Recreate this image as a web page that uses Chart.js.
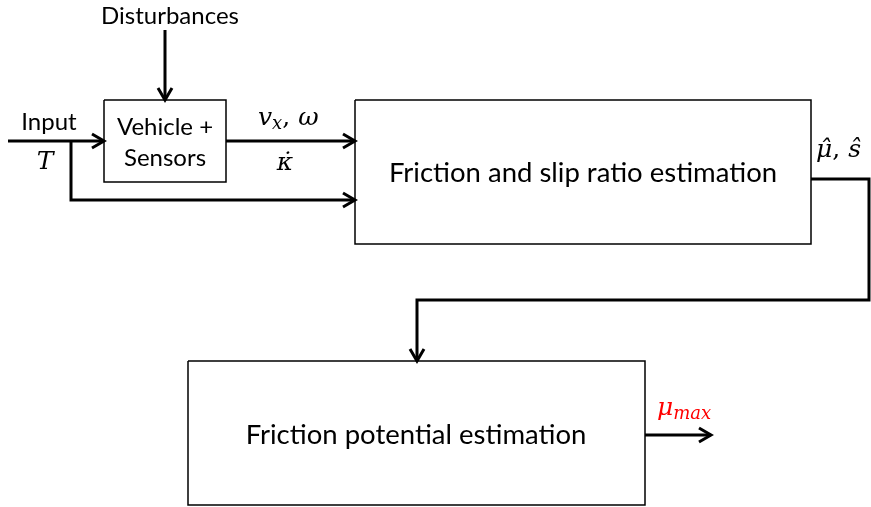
<!DOCTYPE html>
<html><head><meta charset="utf-8">
<script src="https://cdn.jsdelivr.net/npm/chart.js@4.4.1/dist/chart.umd.min.js"></script>
<style>html,body{margin:0;padding:0;background:#fff;}#wrap{width:871px;height:507px;}</style>
</head><body><div id="wrap"><canvas id="c" width="871" height="507"></canvas></div>
<script>
// Blocks: [x1, y1, x2, y2] in diagram units
const blockNames = ["Vehicle + Sensors", "Friction and slip ratio estimation", "Friction potential estimation"];
const blockLeft   = [104, 355, 188];
const blockTop    = [100, 100, 361];
const blockRight  = [226, 811, 645];
const blockBottom = [182, 244, 505];

// Signal wires (polylines); last point is arrow tip when arrow flag true
const wireNames = ["input", "T branch", "disturbances", "vx omega kappa", "mu s feedback", "mu max"];
const wireX = [[8, 104], [71, 71, 355], [165, 165], [226, 355], [811, 869, 869, 417, 417], [645, 711]];
const wireY = [[141, 141], [141, 200, 200], [30, 100], [141, 141], [179, 179, 300, 300, 361], [435, 435]];
const wireArrow = [true, true, true, true, true, true];

// Text labels
const labelText = ["Disturbances", "Input", "Vehicle +", "Sensors", "Friction and slip ratio estimation", "Friction potential estimation"];
const labelX = [170, 49, 165, 165, 583, 416];
const labelY = [16, 122, 127, 158, 173, 435];

// Math labels: segments [text, kind] kind: i=italic, s=subscript italic, r=roman
const mathLabels = [
  {segs: [["T", "i"]], x: 45, y: 162, color: "#000", align: "center"},
  {segs: [["v", "i"], ["x", "s"], [", ", "r"], ["ω", "i"]], x: 258, y: 118, color: "#000", align: "left"},
  {segs: [["κ\u0307", "i"]], x: 285, y: 163, color: "#000", align: "center"},
  {segs: [["μ\u0302", "i"], [", ", "r"], ["ŝ", "i"]], x: 816, y: 150, color: "#000", align: "left"},
  {segs: [["μ", "i"], ["max", "s"]], x: 657, y: 408, color: "#ff0000", align: "left"}
];

const datasets = [];
for (let i = 0; i < blockNames.length; i++) {
  const l = blockLeft[i], t = blockTop[i], r = blockRight[i], b = blockBottom[i];
  datasets.push({label: blockNames[i], data: [{x:l,y:t},{x:r,y:t},{x:r,y:b},{x:l,y:b},{x:l,y:t}],
    showLine: true, borderColor: "#000", borderWidth: 1.5, pointRadius: 0, fill: false, tension: 0, borderJoinStyle: "miter"});
}
for (let i = 0; i < wireNames.length; i++) {
  const pts = wireX[i].map((x, k) => ({x, y: wireY[i][k]}));
  datasets.push({label: wireNames[i], data: pts, showLine: true, borderColor: "#000", borderWidth: 3,
    pointRadius: 0, fill: false, tension: 0, borderJoinStyle: "miter", borderCapStyle: "butt"});
  if (wireArrow[i]) {
    const n = pts.length, tip = pts[n-1], prev = pts[n-2];
    const dx = tip.x - prev.x, dy = tip.y - prev.y, len = Math.hypot(dx, dy);
    const ux = dx/len, uy = dy/len, back = 12, half = 7;
    datasets.push({label: wireNames[i] + " head", data: [
      {x: tip.x - ux*back - uy*half, y: tip.y - uy*back + ux*half},
      {x: tip.x, y: tip.y},
      {x: tip.x - ux*back + uy*half, y: tip.y - uy*back - ux*half}],
      showLine: true, borderColor: "#000", borderWidth: 3, pointRadius: 0, fill: false, tension: 0,
      borderJoinStyle: "miter", borderCapStyle: "butt"});
  }
}

const textPlugin = {
  id: "diagramText",
  afterDatasetsDraw(chart) {
    const ctx = chart.ctx, xs = chart.scales.x, ys = chart.scales.y;
    ctx.save();
    ctx.fillStyle = "#000";
    ctx.textBaseline = "middle";
    ctx.textAlign = "center";
    for (let i = 0; i < labelText.length; i++) {
      const big = i >= 4;
      ctx.font = (big ? "27.5px" : "24px") + " Lato, 'Open Sans', sans-serif";
      ctx.fillText(labelText[i], xs.getPixelForValue(labelX[i]), ys.getPixelForValue(labelY[i]));
    }
    ctx.textAlign = "left";
    for (const m of mathLabels) {
      const fonts = {i: "italic 25px 'DejaVu Serif', serif", s: "italic 18px 'DejaVu Serif', serif", r: "25px 'DejaVu Serif', serif"};
      let w = 0;
      for (const [t, k] of m.segs) { ctx.font = fonts[k]; w += ctx.measureText(t).width; }
      let x = xs.getPixelForValue(m.x); const y = ys.getPixelForValue(m.y);
      if (m.align === "center") x -= w/2;
      ctx.fillStyle = m.color;
      for (const [t, k] of m.segs) {
        ctx.font = fonts[k];
        ctx.fillText(t, x, k === "s" ? y + 6 : y);
        x += ctx.measureText(t).width;
      }
    }
    ctx.restore();
  }
};

new Chart(document.getElementById("c"), {
  type: "scatter",
  data: {datasets},
  options: {
    responsive: false, animation: false,
    layout: {padding: 0},
    plugins: {legend: {display: false}, tooltip: {enabled: false}},
    scales: {
      x: {type: "linear", min: 0, max: 871, display: false},
      y: {type: "linear", min: 0, max: 507, reverse: true, display: false}
    }
  },
  plugins: [textPlugin]
});
</script></body></html>
